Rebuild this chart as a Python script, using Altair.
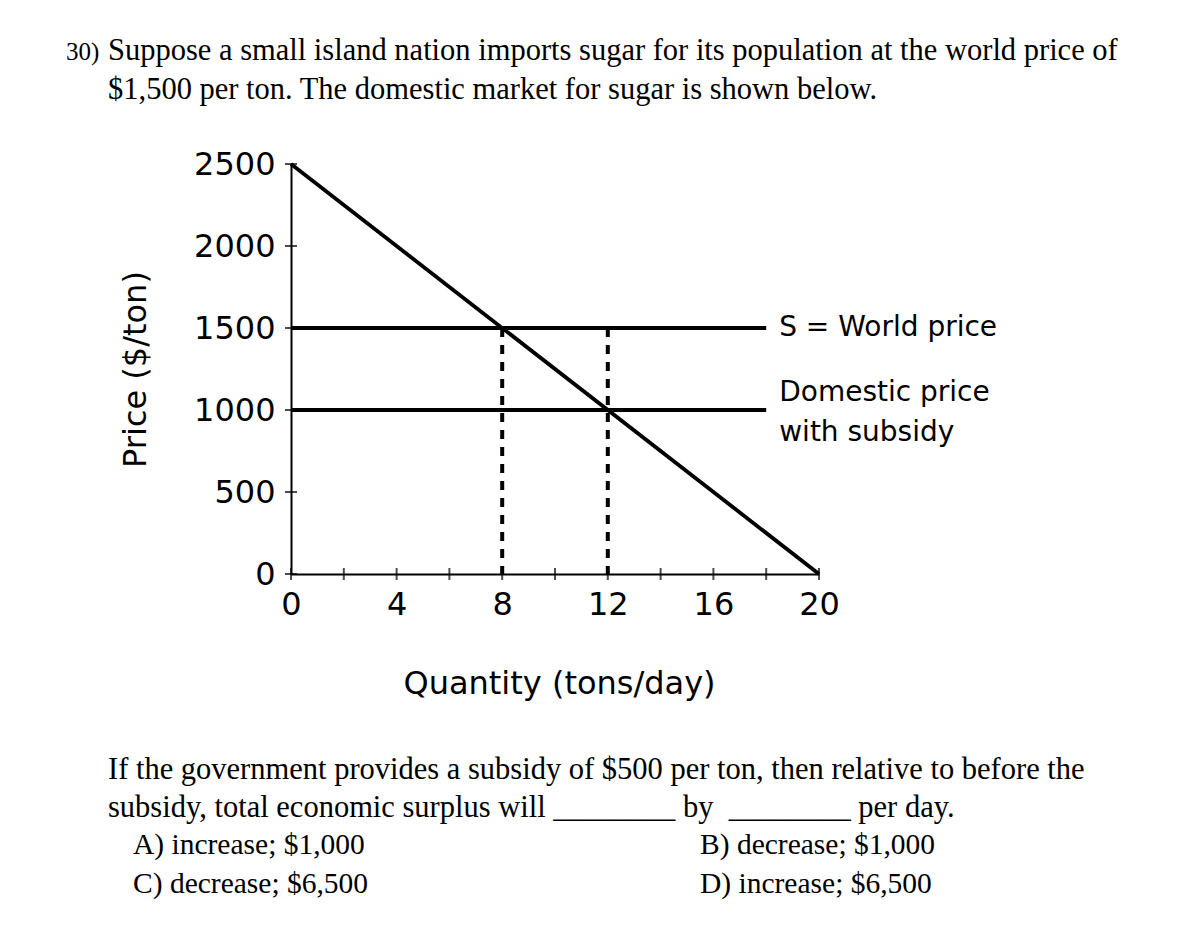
import altair as alt
import pandas as pd

# ---------------- data ----------------
demand_q = [0, 20]
demand_p = [2500, 0]

price_levels = [1500, 1000]          # world price, domestic price with subsidy
price_line_start = [0, 0]
price_line_end = [18, 18]

dashed_q = [8, 12]
dashed_top = [1500, 1500]
dashed_bottom = [0, 0]

x_tick_marks = [0, 2, 4, 6, 8, 10, 12, 14, 16, 18, 20]
x_tick_labels = [0, 4, 8, 12, 16, 20]
y_tick_values = [0, 500, 1000, 1500, 2000, 2500]

label_world = "S = World price"
label_domestic = ["Domestic price", "with subsidy"]

NB = "\u00a0"
question_num = "30)"
question_top = [
    "Suppose a small island nation imports sugar for its population at the world price of",
    "$1,500 per ton. The domestic market for sugar is shown below.",
]
question_bottom = [
    "If the government provides a subsidy of $500 per ton, then relative to before the",
    "subsidy, total economic surplus will" + NB + "________" + NB + "by" + NB + NB
    + "________" + NB + "per day.",
]
options_left = ["A) increase; $1,000", "C) decrease; $6,500"]
options_right = ["B) decrease; $1,000", "D) increase; $6,500"]

# ---------------- chart ----------------
W, H = 528, 410
SANS = "DejaVu Sans"
SERIF = "Liberation Serif"

x_scale = alt.Scale(domain=[0, 20], nice=False, zero=False)
y_scale = alt.Scale(domain=[0, 2500], nice=False, zero=False)

x_axis = alt.Axis(
    values=x_tick_labels, title="Quantity (tons/day)", ticks=False, tickSize=0,
    labelPadding=15, domainColor="black", domainWidth=2, labelFontSize=32,
    labelFont=SANS, labelColor="black", titleFontSize=32, titleFont=SANS,
    titleFontWeight="normal", titleColor="black", titleX=268, titleY=119,
    titleBaseline="alphabetic", titleAlign="center", grid=False,
    labelFlush=False, labelOverlap=False, format="d",
)
y_axis = alt.Axis(
    values=y_tick_values, title="Price ($/ton)", ticks=False, tickSize=0,
    labelPadding=16, domainColor="black", domainWidth=2, labelFontSize=32,
    labelFont=SANS, labelColor="black", titleFontSize=32, titleFont=SANS,
    titleFontWeight="normal", titleColor="black", titleX=-156, titleY=205,
    titleAngle=270, titleBaseline="middle", titleAlign="center", grid=False,
    labelFlush=False, labelOverlap=False, format="d",
)


def X(field):
    return alt.X(field, scale=x_scale, axis=x_axis)


def Y(field):
    return alt.Y(field, scale=y_scale, axis=y_axis)


def XD(v):
    return alt.XDatum(v, scale=x_scale, axis=x_axis)


def YD(v):
    return alt.YDatum(v, scale=y_scale, axis=y_axis)


demand = alt.Chart(pd.DataFrame({"q": demand_q, "p": demand_p})).mark_line(
    color="black", strokeWidth=3.8
).encode(x=X("q:Q"), y=Y("p:Q"))

hlines = alt.Chart(pd.DataFrame({
    "level": price_levels, "x0": price_line_start, "x1": price_line_end
})).mark_rule(color="black", strokeWidth=3.8).encode(
    x=X("x0:Q"), x2="x1:Q", y=Y("level:Q"),
)

dashed = alt.Chart(pd.DataFrame({
    "q": dashed_q, "top": dashed_top, "bottom": dashed_bottom
})).mark_rule(color="black", strokeWidth=4, strokeDash=[9, 8]).encode(
    x=X("q:Q"), y=Y("top:Q"), y2="bottom:Q",
)

xticks = alt.Chart(pd.DataFrame({"q": x_tick_marks})).mark_tick(
    orient="vertical", size=12, thickness=2, color="black"
).encode(x=X("q:Q"), y=YD(0))

yticks = alt.Chart(pd.DataFrame({"p": y_tick_values})).mark_tick(
    orient="horizontal", size=12, thickness=2, color="black"
).encode(y=Y("p:Q"), x=XD(0))

ann_world = alt.Chart(alt.Data(values=[{}])).mark_text(
    text=label_world, align="left", baseline="middle", dx=13,
    fontSize=28, font=SANS, color="black"
).encode(x=XD(price_line_end[0]), y=YD(price_levels[0]))

ann_dom = alt.Chart(alt.Data(values=[{}])).mark_text(
    text=label_domestic, align="left", baseline="middle", dx=13, dy=-17,
    lineHeight=40, fontSize=28, font=SANS, color="black"
).encode(x=XD(price_line_end[1]), y=YD(price_levels[1]))


def txt(lines, x, y, size, lh=None):
    kw = dict(text=lines, align="left", baseline="alphabetic",
              fontSize=size, font=SERIF, color="black")
    if lh is not None:
        kw["lineHeight"] = lh
    return alt.Chart(alt.Data(values=[{}])).mark_text(**kw).encode(
        x=alt.value(x), y=alt.value(y)
    )


t_num = txt(question_num, 66 - 291, 60 - 164, 25)
t_top = txt(question_top, 108 - 291, 60 - 164, 30.5, 39)
t_bot = txt(question_bottom, 108 - 291, 779 - 164, 30.5, 37.7)
t_optl = txt(options_left, 133 - 291, 854 - 164, 29.5, 38.7)
t_optr = txt(options_right, 700 - 291, 854 - 164, 29.5, 38.7)

chart = alt.layer(
    demand, hlines, dashed, xticks, yticks, ann_world, ann_dom,
    t_num, t_top, t_bot, t_optl, t_optr,
).properties(
    width=W, height=H,
    autosize=alt.AutoSizeParams(type="none"),
    padding={"left": 283, "top": 156, "right": 365, "bottom": 335},
    background="white",
).configure_view(stroke=None)

chart.save("out.html", embed_options={"renderer": "svg", "actions": False})
